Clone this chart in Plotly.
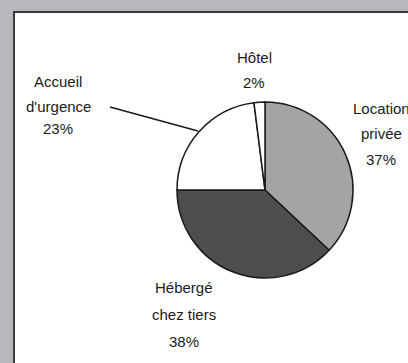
import plotly.graph_objects as go

categories = ["Location privée", "Hébergé chez tiers", "Accueil d'urgence", "Hôtel"]
values = [37, 38, 23, 2]
slice_colors = ["#a4a4a4", "#4e4e4e", "#ffffff", "#ffffff"]
label_lines = [["Location", "privée", "37%"], ["Hébergé", "chez tiers", "38%"],
               ["Accueil", "d'urgence", "23%"], ["Hôtel", "2%"]]

W, H = 408, 363
cx, cy, r = 265, 190, 88

fig = go.Figure(go.Pie(
    labels=categories, values=values, sort=False, direction="clockwise",
    rotation=0, textinfo="none", hoverinfo="label+percent",
    marker=dict(colors=slice_colors, line=dict(color="#1a1a1a", width=1.5)),
    domain=dict(x=[(cx - r) / W, (cx + r) / W], y=[(H - cy - r) / H, (H - cy + r) / H]),
    showlegend=False,
))

def px(x):
    return x / W

def py(y):
    return 1 - y / H

font = dict(family="Liberation Sans, Arial, sans-serif", size=15, color="#1a1a1a")
label_pos = [(381, [108, 133, 159]), (184, [287, 314, 341]),
             (58, [81, 106, 129]), (254, [57, 83])]
annotations = []
for lines, (x, ys) in zip(label_lines, label_pos):
    for t, y in zip(lines, ys):
        annotations.append(dict(text=t, x=px(x), y=py(y), xref="paper", yref="paper",
                                showarrow=False, font=font, align="center",
                                xanchor="center", yanchor="middle"))

fig.update_layout(
    width=W, height=H, margin=dict(l=0, r=0, t=0, b=0),
    paper_bgcolor="#b6b8bb", plot_bgcolor="#b6b8bb",
    annotations=annotations,
    shapes=[
        dict(type="rect", xref="paper", yref="paper", layer="below",
             x0=px(14), x1=px(W + 5), y0=py(H + 5), y1=py(12),
             fillcolor="#ffffff", line=dict(color="#3a3a3a", width=2)),
        dict(type="line", xref="paper", yref="paper",
             x0=px(110), y0=py(107), x1=px(198), y1=py(131),
             line=dict(color="#1a1a1a", width=1.5)),
    ],
)

fig.write_html("out.html")
